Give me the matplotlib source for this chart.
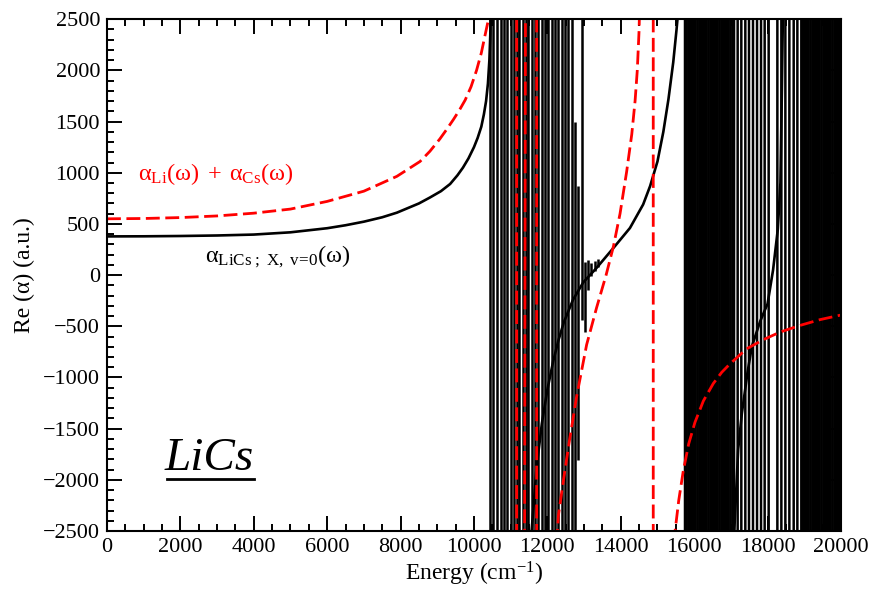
import numpy as np
import matplotlib
matplotlib.use("Agg")
import matplotlib.pyplot as plt
from matplotlib.ticker import MultipleLocator
from matplotlib.lines import Line2D

plt.rcParams['font.family'] = ['Liberation Serif', 'DejaVu Serif']
plt.rcParams['mathtext.fontset'] = 'custom'
plt.rcParams['mathtext.rm'] = 'Liberation Serif'
plt.rcParams['mathtext.it'] = 'Liberation Serif:italic'

nan = np.nan

# LiCs X, v=0 polarizability background (energy in cm-1, alpha in a.u.), nan = break
mol_E = [0, 1000, 2000, 3000, 4000, 5000, 6000, 6500, 7000, 7500, 7900, 8500, 8800,
         9100, 9350, 9550, 9700, 9850, 10000, 10100, 10200, 10270, 10330, 10380,
         10420, 10445, 10460, nan,
         11550, 11700, 11850, 12000, 12160, 12300, 12450, 12700, 12980, 13340, 13800,
         14250, 14610, 14800, 15000, 15160, 15300, 15430, 15520, 15570, nan,
         17080, 17200, 17300, 17450, 17570, 17800, 18000, 18150, 18280, 18350, 18390, 18420]
mol_a = [378, 379, 382, 387, 396, 418, 458, 487, 522, 565, 610, 700, 758,
         820, 890, 975, 1050, 1140, 1250, 1340, 1450, 1570, 1700, 1870,
         2100, 2350, 2600, nan,
         -2600, -1900, -1450, -1120, -840, -640, -460, -240, -70, 70, 265,
         460, 690, 870, 1110, 1400, 1720, 2080, 2400, 2600, nan,
         -2600, -1700, -1350, -960, -700, -450, -280, 50, 450, 900, 1800, 2600]

# alpha_Li + alpha_Cs (dashed red), large values = off-scale near atomic poles
atom_E = [0, 1000, 2000, 3000, 4000, 5000, 6000, 7000, 7900, 8530, 8800, 9070, 9250,
          9440, 9600, 9760, 9920, 10070, 10200, 10300, 10420, 10700, 11163, 11163.1,
          11390, 11708, 11708.1, 12100, 12300, 12440, 12600, 12800, 13070, 13340,
          13600, 13800, 13980, 14160, 14300, 14390, 14450, 14500, 14700, 14885,
          14885.1, 15300, 15480, 15580, 15700, 15850, 16020, 16250, 16520, 16750,
          16980, 17430, 17890, 18340, 18880, 19430, 20000]
atom_a = [550, 553, 562, 578, 605, 645, 720, 820, 965, 1110, 1210, 1330, 1420,
          1520, 1610, 1710, 1840, 2000, 2170, 2340, 2540, 4000, 60000, -60000,
          0, 60000, -60000, -3500, -2350, -2000, -1620, -1180, -680, -320,
          0, 280, 600, 1010, 1376, 1701, 2000, 2400, 6000, 60000,
          -60000, -4000, -2500, -2200, -1920, -1650, -1440, -1230, -1060, -950,
          -866, -720, -630, -557, -492, -435, -390]

# resonance positions (full-height lines)
res_band1 = [10437, 10527, 10636, 10727, 10818, 10909, 11000, 11091, 11163, 11236,
             11327, 11408, 11481, 11572, 11663, 11754, 11845, 11936, 12026, 12117,
             12208, 12299, 12390, 12481, 12571, 12662]
res_band2 = [15750, 15790, 15840, 15890, 15940, 15990, 16040, 16090, 16140, 16190,
             16240, 16290, 16340, 16390, 16440, 16490, 16540, 16590, 16640, 16690,
             16740, 16790, 16840, 16890, 16940, 16990, 17040,
             17086, 17185, 17285, 17394, 17494, 17603, 17713, 17822, 17921, 18030,
             18267, 18376, 18485, 18594, 18712, 18812,
             18920, 18970, 19020, 19070, 19120, 19170, 19220, 19270, 19320, 19370,
             19420, 19470, 19520, 19570, 19620, 19670, 19720, 19770, 19820, 19870,
             19920, 19970, 20000]

# weaker resonances (partial spikes)
part_E = [12752, 12843, 12935, 13025, 13110, 13200, 13290, 13370]
part_lo = [-2500, -1808, -440, -560, -150, -10, 40, 80]
part_hi = [1500, 870, 2500, 125, 150, 120, 140, 160]

fig, ax = plt.subplots(figsize=(8.74, 6.0), dpi=100)
fig.subplots_adjust(left=0.1224, right=0.9622, bottom=0.115, top=0.968)

ax.set_xlim(0, 20000)
ax.set_ylim(-2500, 2500)
ylo, yhi = ax.get_ylim()

ax.vlines(res_band1, ylo, yhi, color='black', lw=1.8)
ax.vlines(res_band2, ylo, yhi, color='black', lw=1.8, snap=False)
ax.vlines(part_E, part_lo, part_hi, color='black', lw=1.8)
ax.plot(mol_E, mol_a, color='black', lw=1.9)
ax.plot(atom_E, atom_a, color='red', lw=2.0, dashes=(5, 2))

ax.xaxis.set_major_locator(MultipleLocator(2000))
ax.xaxis.set_minor_locator(MultipleLocator(500))
ax.yaxis.set_major_locator(MultipleLocator(500))
ax.yaxis.set_minor_locator(MultipleLocator(100))
ax.tick_params(which='both', direction='in', top=True, right=True, width=1.4, labelsize=16)
ax.tick_params(which='major', length=10.5)
ax.tick_params(which='minor', length=5.2)
ax.tick_params(axis='y', pad=5)
ax.tick_params(axis='x', pad=5)
for s in ax.spines.values():
    s.set_linewidth(1.5)

ax.set_xlabel('Energy (cm$^{-1}$)', fontsize=17, labelpad=2)
ax.set_ylabel('Re (α) (a.u.)', fontsize=17, labelpad=6)

ax.text(845, 990, r'$\mathrm{α}_{\mathrm{Li}}\mathrm{(ω)\;+\;α}_{\mathrm{Cs}}\mathrm{(ω)}$',
        color='red', fontsize=17.5, va='center', ha='left')
ax.text(2670, 174, r'$\mathrm{α}_{\mathrm{LiCs\ ;\ X,\ v\!=\!0}}\mathrm{(ω)}$',
        color='black', fontsize=17.5, va='center', ha='left')
t = ax.text(1580, -1905, 'LiCs', fontsize=34, style='italic', va='baseline', ha='left')

fig.canvas.draw()
bb = t.get_window_extent()
uy = bb.y0 + 1
fig.add_artist(Line2D([bb.x0 + 2, bb.x1], [uy, uy], transform=None, color='black', lw=2))

fig.savefig('out.png', dpi=100)
